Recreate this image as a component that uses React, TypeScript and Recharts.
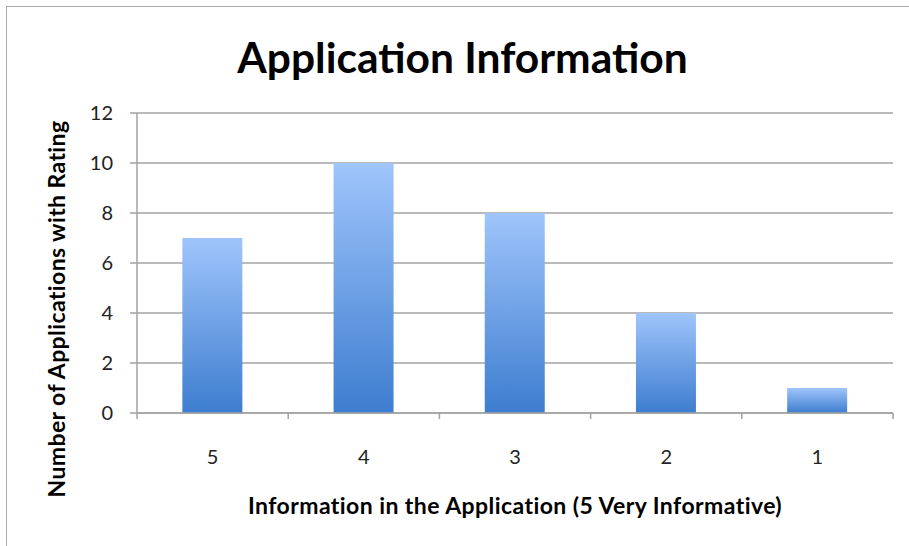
import React from 'react';
import { BarChart, Bar, XAxis, YAxis, CartesianGrid } from 'recharts';

const categories = ['5', '4', '3', '2', '1'];
const counts = [7, 10, 8, 4, 1];
const yTicks = [0, 2, 4, 6, 8, 10, 12];
const titleText = 'Application Information';
const xTitle = 'Information in the Application (5 Very Informative)';
const yTitle = 'Number of Applications with Rating';

const data = categories.map((c, i) => ({ name: c, value: counts[i] }));

const W = 909;
const H = 546;
const PLOT_LEFT = 137;
const PLOT_RIGHT = 893;
const PLOT_TOP = 113;
const PLOT_BOTTOM = 413;
const Y_AXIS_W = 60;
const X_AXIS_H = 30;
const FONT = 'Lato, "Open Sans", sans-serif';
const AXIS_COLOR = '#a3a3a3';

const BAND = (PLOT_RIGHT - PLOT_LEFT) / categories.length;

const XTick = (props: any) => {
  const { x, y, payload, index } = props;
  const last = index === categories.length - 1;
  return (
    <g>
      <line x1={x - BAND / 2} x2={x - BAND / 2} y1={y} y2={y + 6} stroke={AXIS_COLOR} strokeWidth={1.5} />
      {last && (
        <line x1={x + BAND / 2} x2={x + BAND / 2} y1={y} y2={y + 6} stroke={AXIS_COLOR} strokeWidth={1.5} />
      )}
      <text x={x} y={y + 51} textAnchor="middle" fontSize={20} fontFamily={FONT} fill="#222">
        {payload.value}
      </text>
    </g>
  );
};

export default function App() {
  return (
    <div style={{ position: 'absolute', left: 0, top: 0, width: W, height: H, background: '#fff', overflow: 'hidden' }}>
      <div
        style={{
          position: 'absolute',
          left: 6,
          top: 6,
          width: W,
          height: H,
          border: '1.5px solid #a8a8a8',
          boxSizing: 'border-box',
        }}
      />
      <div
        style={{
          position: 'absolute',
          left: 0,
          width: 925,
          top: 30.5,
          textAlign: 'center',
          fontFamily: FONT,
          fontWeight: 'bold',
          fontSize: 42.5,
          lineHeight: '52px',
          color: '#000',
          whiteSpace: 'nowrap',
        }}
      >
        {titleText}
      </div>
      <div
        style={{
          position: 'absolute',
          left: PLOT_LEFT - 50,
          width: PLOT_RIGHT - PLOT_LEFT + 100,
          top: 491.5,
          textAlign: 'center',
          fontFamily: FONT,
          fontWeight: 'bold',
          fontSize: 23,
          letterSpacing: '0.43px',
          lineHeight: '26px',
          color: '#000',
          whiteSpace: 'nowrap',
        }}
      >
        {xTitle}
      </div>
      <div
        style={{
          position: 'absolute',
          left: 55.5 - 250,
          top: 308.5 - 13,
          width: 500,
          height: 26,
          textAlign: 'center',
          fontFamily: FONT,
          fontWeight: 'bold',
          fontSize: 23,
          letterSpacing: '0.4px',
          lineHeight: '26px',
          transform: 'rotate(-90deg)',
          color: '#000',
          whiteSpace: 'nowrap',
        }}
      >
        {yTitle}
      </div>
      <div style={{ position: 'absolute', left: 0, top: 0 }}>
        <BarChart
          width={W}
          height={H}
          data={data}
          margin={{
            top: PLOT_TOP,
            left: PLOT_LEFT - Y_AXIS_W,
            right: W - PLOT_RIGHT,
            bottom: H - PLOT_BOTTOM - X_AXIS_H,
          }}
          barCategoryGap="30%"
        >
          <defs>
            <linearGradient id="barGrad" x1="0" y1="0" x2="0" y2="1">
              <stop offset="0%" stopColor="#9fc5fb" />
              <stop offset="100%" stopColor="#3d7dcf" />
            </linearGradient>
          </defs>
          <CartesianGrid vertical={false} stroke={AXIS_COLOR} strokeWidth={1.5} />
          <XAxis
            dataKey="name"
            height={X_AXIS_H}
            axisLine={{ stroke: AXIS_COLOR, strokeWidth: 1.5 }}
            tickLine={false}
            tickSize={0}
            tickMargin={0}
            tick={<XTick />}
            interval={0}
          />
          <YAxis
            width={Y_AXIS_W}
            domain={[0, 12]}
            ticks={yTicks}
            interval={0}
            axisLine={{ stroke: AXIS_COLOR, strokeWidth: 1.5 }}
            tickLine={{ stroke: AXIS_COLOR, strokeWidth: 1.5 }}
            tickSize={7}
            tickMargin={17}
            tick={{ fontSize: 20, fontFamily: FONT, fill: '#222' }}
          />
          <Bar dataKey="value" fill="url(#barGrad)" isAnimationActive={false} />
        </BarChart>
      </div>
    </div>
  );
}
